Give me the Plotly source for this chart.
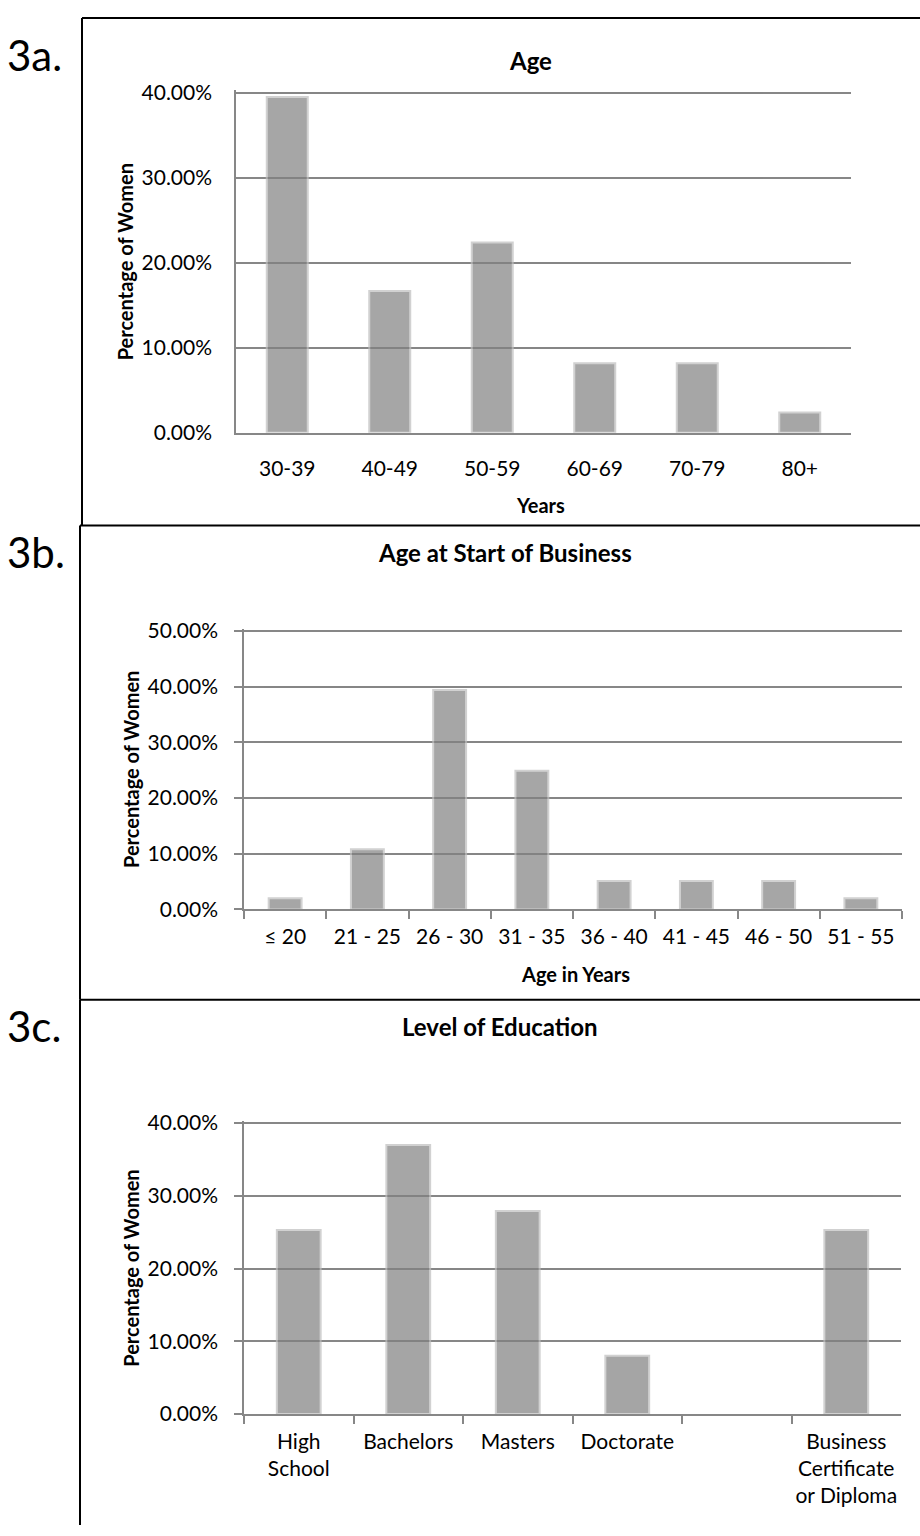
import plotly.graph_objects as go

W, H = 920, 1536

# 3a. Age
age_groups = ["30-39", "40-49", "50-59", "60-69", "70-79", "80+"]
age_share = [0.395, 0.167, 0.224, 0.082, 0.082, 0.024]

# 3b. Age at start of business
start_groups = ["≤ 20", "21 - 25", "26 - 30", "31 - 35", "36 - 40", "41 - 45", "46 - 50", "51 - 55"]
start_share = [0.020, 0.108, 0.394, 0.249, 0.051, 0.051, 0.051, 0.020]

# 3c. Level of education
edu_levels = ["High<br>School", "Bachelors", "Masters", "Doctorate", " ", "Business<br>Certificate<br>or Diploma"]
edu_share = [0.253, 0.370, 0.279, 0.080, None, 0.253]

FONT = "Lato"
GRID = "#878787"
BAR = "rgb(128,128,128)"
BAR_EDGE = "rgb(190,190,190)"
TOP_PAD = 2.5  # px of headroom so the top gridline is not dropped at the plot edge


def xp(px):
    return px / W


def yp(py):
    return 1 - py / H


fig = go.Figure()

panels = [
    # (categories, values, axis suffix, plot box px (x0, x1, ytop, ybottom), y max, outside ticks)
    (age_groups, age_share, "", (236, 851, 83, 428), 0.40, False),
    (start_groups, start_share, "2", (244, 902, 629, 911.5), 0.50, True),
    (edu_levels, edu_share, "3", (244, 901, 1128.3, 1423.3), 0.40, True),
]

for cats, vals, sfx, (x0, x1, yt, yb), ymax, ticks in panels:
    fig.add_trace(go.Bar(
        x=cats, y=vals,
        xaxis="x" + sfx, yaxis="y" + sfx,
        marker=dict(color=BAR, line=dict(color=BAR_EDGE, width=2)),
        opacity=0.7,
        showlegend=False,
        hoverinfo="x+y",
    ))
    fig.layout["xaxis" + sfx] = dict(
        domain=[xp(x0), xp(x1)],
        anchor="y" + sfx,
        type="category",
        categoryorder="array", categoryarray=cats,
        showline=True, linecolor=GRID, linewidth=1.5,
        showgrid=False, zeroline=False,
        ticks="outside" if ticks else "",
        tickson="boundaries",
        ticklen=8, tickcolor=GRID, tickwidth=1.5,
        ticklabelstandoff=8 if ticks else 16,
        tickfont=dict(family=FONT, size=21, color="#000"),
        fixedrange=True,
    )
    span = yb - yt
    fig.layout["yaxis" + sfx] = dict(
        domain=[yp(yb), yp(yt - TOP_PAD)],
        anchor="x" + sfx,
        range=[0, ymax * (1 + TOP_PAD / span)], dtick=0.1, tickformat=".2%",
        showline=True, linecolor=GRID, linewidth=1.5,
        showgrid=True, gridcolor=GRID, gridwidth=1.5,
        zeroline=False,
        ticks="outside" if ticks else "",
        ticklen=8, tickcolor=GRID, tickwidth=1.5,
        ticklabelstandoff=12 if ticks else 18,
        tickfont=dict(family=FONT, size=21, color="#000"),
        fixedrange=True,
    )

# Panel frames
frame = dict(type="line", xref="paper", yref="paper", line=dict(color="#000", width=2))
shapes = []
for (fx, ftop, fbot) in [(82, 7, 522), (80, 522, 1003), (80, 1003, 1536)]:
    shapes.append(dict(frame, x0=xp(fx), x1=xp(920), y0=yp(ftop), y1=yp(ftop)))
    shapes.append(dict(frame, x0=xp(fx), x1=xp(fx), y0=yp(ftop), y1=yp(fbot)))

ann = []


def text(s, x, y, size, bold=False, angle=0, xanchor="center"):
    ann.append(dict(
        text=f"<b>{s}</b>" if bold else s,
        x=xp(x), y=yp(y), xref="paper", yref="paper",
        xanchor=xanchor, yanchor="middle", showarrow=False,
        textangle=angle,
        font=dict(family=FONT, size=size, color="#000"),
    ))


# Panel labels
text("3a.", 5, 45, 42, xanchor="left")
text("3b.", 5, 549, 42, xanchor="left")
text("3c.", 5, 1030, 42, xanchor="left")

# Chart titles
text("Age", 530, 50, 24, bold=True)
text("Age at Start of Business", 505, 549, 24, bold=True)
text("Level of Education", 500, 1030, 24, bold=True)

# Axis titles
text("Years", 540, 501, 20, bold=True)
text("Age in Years", 575, 977, 20, bold=True)
for cy, cx in [(255, 125), (770, 131), (1276, 131)]:
    text("Percentage of Women", cx, cy, 20, bold=True, angle=-90)

fig.update_layout(
    width=W, height=H,
    margin=dict(l=0, r=0, t=0, b=0),
    paper_bgcolor="#fff", plot_bgcolor="#fff",
    bargap=0.6,
    shapes=shapes,
    annotations=ann,
    font=dict(family=FONT),
)

fig.write_html("out.html")
